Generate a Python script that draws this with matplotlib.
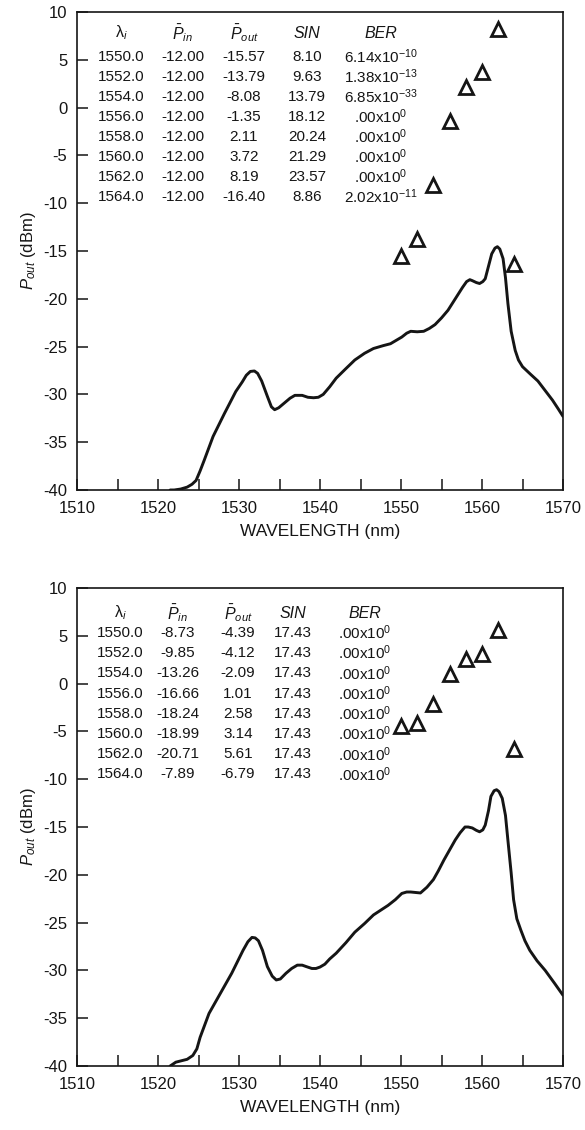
import matplotlib
matplotlib.use("Agg")
import matplotlib.pyplot as plt

plt.rcParams['font.family'] = ['Liberation Sans', 'DejaVu Sans']
plt.rcParams['mathtext.fontset'] = 'custom'
plt.rcParams['mathtext.rm'] = 'Liberation Sans'
plt.rcParams['mathtext.it'] = 'Liberation Sans:italic'
plt.rcParams['mathtext.bf'] = 'Liberation Sans:bold'

# ---------------- data ----------------
channels = [1550.0, 1552.0, 1554.0, 1556.0, 1558.0, 1560.0, 1562.0, 1564.0]

top_pin = [-12.00, -12.00, -12.00, -12.00, -12.00, -12.00, -12.00, -12.00]
top_pout = [-15.57, -13.79, -8.08, -1.35, 2.11, 3.72, 8.19, -16.40]
top_sin = [8.10, 9.63, 13.79, 18.12, 20.24, 21.29, 23.57, 8.86]
top_ber = ['6.14x10$^{-10}$', '1.38x10$^{-13}$', '6.85x10$^{-33}$', '.00x10$^{0}$',
           '.00x10$^{0}$', '.00x10$^{0}$', '.00x10$^{0}$', '2.02x10$^{-11}$']

bot_pin = [-8.73, -9.85, -13.26, -16.66, -18.24, -18.99, -20.71, -7.89]
bot_pout = [-4.39, -4.12, -2.09, 1.01, 2.58, 3.14, 5.61, -6.79]
bot_sin = [17.43, 17.43, 17.43, 17.43, 17.43, 17.43, 17.43, 17.43]
bot_ber = ['.00x10$^{0}$', '.00x10$^{0}$', '.00x10$^{0}$', '.00x10$^{0}$',
           '.00x10$^{0}$', '.00x10$^{0}$', '.00x10$^{0}$', '.00x10$^{0}$']

top_spec_wl = [1521.5, 1522.0, 1522.8, 1523.6, 1524.2, 1524.7, 1525.2, 1525.7, 1526.8,
               1528.2, 1529.6, 1530.4, 1530.9, 1531.4, 1531.9, 1532.3, 1532.8, 1533.5,
               1534.0, 1534.4, 1534.9, 1535.6, 1536.3, 1536.9, 1537.8, 1538.5, 1539.2,
               1539.8, 1540.4, 1541.2, 1542.0, 1543.2, 1544.3, 1545.5, 1546.6, 1547.8,
               1548.7, 1549.5, 1550.1, 1550.7, 1551.2, 1552.0, 1552.8, 1553.5, 1554.2,
               1555.0, 1555.8, 1556.4, 1557.0, 1557.6, 1558.1, 1558.5, 1558.8, 1559.3,
               1559.7, 1560.1, 1560.4, 1560.8, 1561.2, 1561.6, 1561.9, 1562.2, 1562.6,
               1562.9, 1563.2, 1563.6, 1564.1, 1564.5, 1565.0, 1566.0, 1566.9, 1567.8,
               1568.7, 1569.4, 1570.0]
top_spec_p = [-40.0, -40.0, -39.9, -39.7, -39.4, -39.0, -38.0, -36.9, -34.4,
              -32.0, -29.7, -28.7, -28.0, -27.6, -27.55, -27.8, -28.6, -30.2,
              -31.3, -31.6, -31.4, -30.9, -30.4, -30.1, -30.1, -30.3, -30.35,
              -30.3, -30.0, -29.2, -28.3, -27.3, -26.4, -25.7, -25.2, -24.9,
              -24.7, -24.3, -24.0, -23.6, -23.4, -23.45, -23.4, -23.1, -22.7,
              -22.0, -21.2, -20.4, -19.6, -18.8, -18.2, -18.0, -18.1, -18.3,
              -18.4, -18.2, -17.9, -16.6, -15.3, -14.7, -14.55, -14.8, -15.8,
              -17.8, -20.5, -23.4, -25.4, -26.4, -27.1, -27.9, -28.6, -29.6,
              -30.6, -31.5, -32.3]

bot_spec_wl = [1521.5, 1522.2, 1522.9, 1523.6, 1524.3, 1524.8, 1525.2, 1526.3, 1527.7,
               1529.1, 1530.5, 1531.1, 1531.6, 1532.0, 1532.4, 1532.9, 1533.5, 1534.1,
               1534.6, 1535.1, 1535.8, 1536.5, 1537.2, 1537.8, 1538.3, 1539.0, 1539.5,
               1540.0, 1540.6, 1541.2, 1542.0, 1543.2, 1544.3, 1545.5, 1546.6, 1547.5,
               1548.4, 1549.3, 1550.1, 1550.7, 1551.2, 1551.8, 1552.4, 1553.2, 1554.0,
               1554.6, 1555.3, 1556.0, 1556.7, 1557.3, 1557.9, 1558.3, 1558.8, 1559.3,
               1559.7, 1560.1, 1560.4, 1560.8, 1561.1, 1561.5, 1561.8, 1562.1, 1562.5,
               1562.9, 1563.2, 1563.6, 1563.9, 1564.3, 1564.8, 1565.3, 1565.9, 1566.8,
               1567.8, 1569.0, 1570.0]
bot_spec_p = [-40.0, -39.6, -39.45, -39.3, -38.9, -38.2, -37.0, -34.5, -32.4,
              -30.3, -27.9, -27.0, -26.55, -26.6, -26.9, -27.9, -29.6, -30.6,
              -31.0, -30.9, -30.3, -29.8, -29.45, -29.45, -29.6, -29.8, -29.8,
              -29.65, -29.35, -28.8, -28.2, -27.1, -26.0, -25.1, -24.2, -23.7,
              -23.2, -22.6, -21.95, -21.8, -21.8, -21.85, -21.9, -21.3, -20.5,
              -19.6, -18.45, -17.4, -16.35, -15.6, -15.0, -15.0, -15.1, -15.35,
              -15.5, -15.3, -14.8, -13.3, -11.8, -11.2, -11.1, -11.3, -12.0,
              -13.8, -16.4, -19.8, -22.6, -24.6, -25.8, -26.9, -27.9, -29.0,
              -30.0, -31.4, -32.6]

x_ticks = [1510, 1520, 1530, 1540, 1550, 1560, 1570]
y_ticks = [10, 5, 0, -5, -10, -15, -20, -25, -30, -35, -40]

# ---------------- layout ----------------
W, H = 585, 1130
fig = plt.figure(figsize=(W / 100, H / 100), dpi=100)
ax_left, ax_w, ax_h = 77, 486, 478
ax1 = fig.add_axes([ax_left / W, 1 - 490 / H, ax_w / W, ax_h / H])
ax2 = fig.add_axes([ax_left / W, 1 - 1066 / H, ax_w / W, ax_h / H])

ink = '#151515'


def col_x(px):
    return (px - ax_left) / ax_w


def row_y(px_from_top):
    return 1 - px_from_top / ax_h


def draw_panel(ax, wl, p, pin, pout, sin, ber, cols, header_y, first_row, row_step):
    ax.plot(wl, p, color=ink, lw=2.1, solid_joinstyle='round', solid_capstyle='round')
    ax.plot(channels, pout, linestyle='none', marker='^', markersize=9.5,
            markerfacecolor='white', markeredgecolor=ink, markeredgewidth=2.0)
    ax.set_xlim(1510, 1570)
    ax.set_ylim(-40, 10)
    ax.set_xticks(x_ticks)
    ax.set_xticks([1515, 1525, 1535, 1545, 1555, 1565], minor=True)
    ax.set_yticks(y_ticks)
    ax.set_yticklabels([str(v) for v in y_ticks])
    ax.tick_params(axis='both', which='both', direction='in', length=8, width=1.1,
                   color=ink, labelsize=12, labelcolor=ink, top=False, right=False)
    ax.tick_params(axis='x', which='major', pad=8)
    ax.tick_params(axis='y', which='major', pad=7)
    for s in ax.spines.values():
        s.set_linewidth(1.2)
        s.set_color(ink)
    ax.set_xlabel('WAVELENGTH (nm)', fontsize=12.5, color=ink, labelpad=6)
    ax.set_ylabel(r'$P_{out}$' + ' (dBm)', fontsize=12, color=ink, labelpad=4)

    hdrs = [r'$\mathrm{\lambda}_{i}$', r'$\bar{P}_{in}$', r'$\bar{P}_{out}$', 'SIN', 'BER']
    for k, h in enumerate(hdrs):
        ax.text(col_x(cols[k]), row_y(header_y), h, transform=ax.transAxes,
                ha='center', va='center', fontsize=11.5, color=ink,
                style='italic' if k >= 3 else 'normal')
    for i in range(len(channels)):
        y = row_y(first_row + i * row_step)
        vals = [f'{channels[i]:.1f}', f'{pin[i]:.2f}', f'{pout[i]:.2f}',
                f'{sin[i]:.2f}', ber[i]]
        for k, v in enumerate(vals):
            ax.text(col_x(cols[k]), y, v, transform=ax.transAxes, ha='center',
                    va='center', fontsize=11, color=ink)


draw_panel(ax1, top_spec_wl, top_spec_p, top_pin, top_pout, top_sin, top_ber,
           cols=[121, 183, 244, 307, 381], header_y=21, first_row=45, row_step=20)
draw_panel(ax2, bot_spec_wl, bot_spec_p, bot_pin, bot_pout, bot_sin, bot_ber,
           cols=[120, 178, 238, 293, 365], header_y=25, first_row=45, row_step=20.2)

fig.savefig('out.png', dpi=100)
